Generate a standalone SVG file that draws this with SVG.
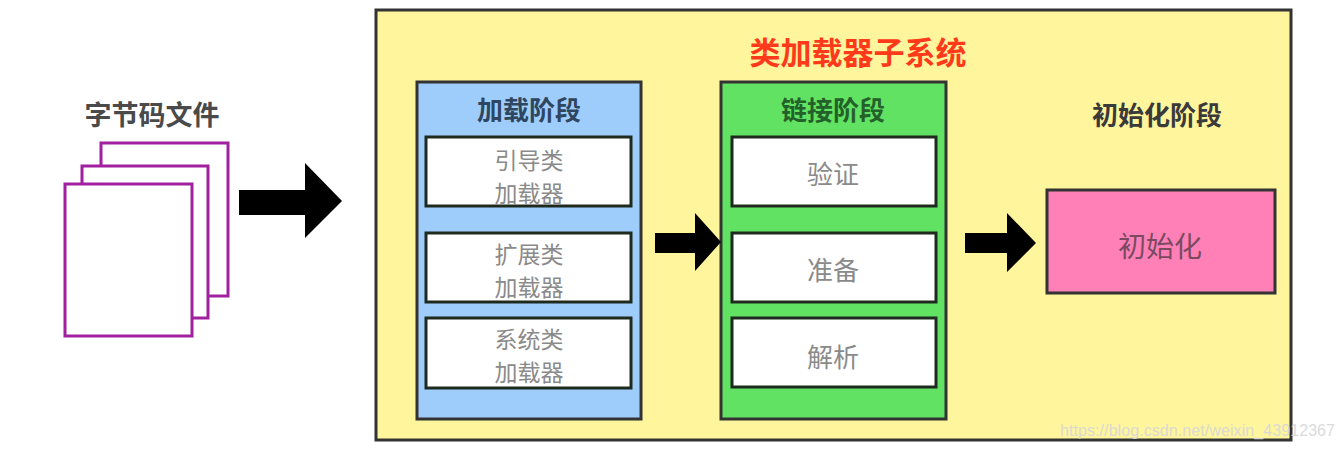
<svg xmlns="http://www.w3.org/2000/svg" width="1342" height="450" viewBox="0 0 1342 450">
<style>
.cjk{font-family:"Noto Sans CJK SC","Noto Sans",sans-serif;text-anchor:middle;dominant-baseline:central}
.item{font-size:26px;fill:#8a8a8a}
.item2{font-size:23px;fill:#8a8a8a}
.white{fill:#ffffff;stroke:#1f2a1f;stroke-width:3}
.doc{fill:#ffffff;stroke:#a020a0;stroke-width:3}
.arrow{fill:#000000}
</style>
<rect width="1342" height="450" fill="#ffffff"/>
<g id="subsystem">
<rect x="376" y="10" width="915" height="430" fill="#fff59d" stroke="#333333" stroke-width="3"/>
<text class="cjk" x="858" y="50" font-size="31" font-weight="bold" fill="#ff3a1a">类加载器子系统</text>
</g>
<g id="bytecode">
<text class="cjk" x="152" y="113" font-size="27" font-weight="bold" fill="#4a4a4a">字节码文件</text>
<rect class="doc" x="101" y="143" width="127" height="153"/>
<rect class="doc" x="82" y="166" width="126" height="152"/>
<rect class="doc" x="65" y="184" width="127" height="152"/>
</g>
<g id="loading">
<rect x="417" y="82" width="224" height="337" fill="#9fcdfb" stroke="#333333" stroke-width="3"/>
<text class="cjk" x="529" y="108" font-size="26" font-weight="bold" fill="#2e4660">加载阶段</text>
</g>
<g id="bootstrap">
<rect class="white" x="426" y="137" width="205" height="69"/>
<text class="cjk item2" x="529" y="159">引导类</text>
<text class="cjk item2" x="529" y="192">加载器</text>
</g>
<g id="extension">
<rect class="white" x="426" y="233" width="205" height="69"/>
<text class="cjk item2" x="529" y="253">扩展类</text>
<text class="cjk item2" x="529" y="286">加载器</text>
</g>
<g id="system">
<rect class="white" x="426" y="318" width="205" height="70"/>
<text class="cjk item2" x="529" y="338">系统类</text>
<text class="cjk item2" x="529" y="371">加载器</text>
</g>
<g id="linking">
<rect x="721" y="82" width="225" height="337" fill="#62e262" stroke="#333333" stroke-width="3"/>
<text class="cjk" x="833" y="108" font-size="26" font-weight="bold" fill="#24602a">链接阶段</text>
</g>
<g id="verify">
<rect class="white" x="732" y="137" width="204" height="69"/>
<text class="cjk item" x="833" y="172">验证</text>
</g>
<g id="prepare">
<rect class="white" x="732" y="233" width="204" height="69"/>
<text class="cjk item" x="833" y="268">准备</text>
</g>
<g id="resolve">
<rect class="white" x="732" y="318" width="204" height="69"/>
<text class="cjk item" x="833" y="355">解析</text>
</g>
<g id="initialization">
<text class="cjk" x="1157" y="113" font-size="26" font-weight="bold" fill="#3a3a3a">初始化阶段</text>
<rect x="1047" y="190" width="228" height="103" fill="#ff80b6" stroke="#333333" stroke-width="3"/>
<text class="cjk" x="1160" y="245" font-size="28" fill="#7a4a62">初始化</text>
</g>
<g id="connectors">
<polygon class="arrow" points="239,190 305,190 305,163 342,201 305,238 305,215 239,215"/>
<polygon class="arrow" points="655,233 695,233 695,213 721,242 695,271 695,253 655,253"/>
<polygon class="arrow" points="965,233 1007,233 1007,213 1036,243 1007,272 1007,253 965,253"/>
</g>
<text x="1060" y="436" font-family="Liberation Sans, Arial, sans-serif" font-size="16" fill="#d8d8d8" opacity="0.9" textLength="275">https://blog.csdn.net/weixin_43912367</text>
</svg>
